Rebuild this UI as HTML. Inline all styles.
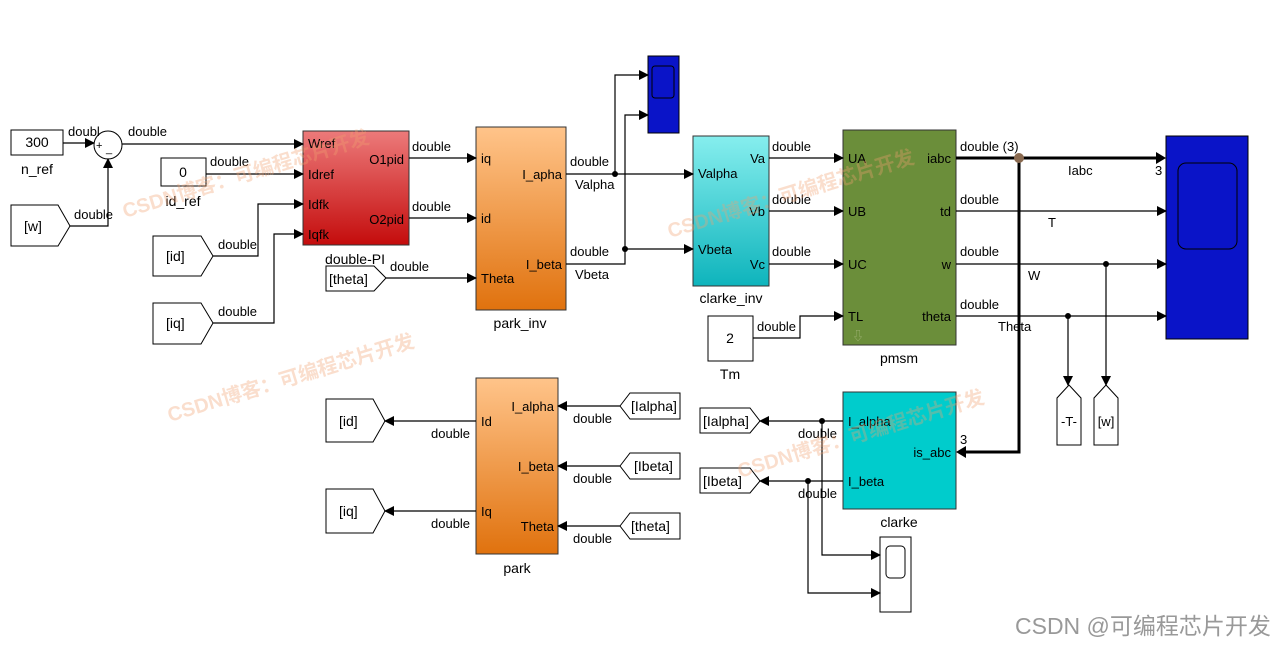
<!DOCTYPE html>
<html><head><meta charset="utf-8"><style>
html,body{margin:0;padding:0;background:#fff;}
svg{display:block;font-family:"Liberation Sans","Noto Sans CJK SC",sans-serif;}
</style></head><body>
<svg width="1283" height="646" viewBox="0 0 1283 646" xmlns="http://www.w3.org/2000/svg">
<defs>
<marker id="a" markerWidth="10" markerHeight="10" refX="9" refY="5" orient="auto" markerUnits="userSpaceOnUse"><path d="M0,0 L10,5 L0,10 z" fill="#000"/></marker>
<linearGradient id="red" x1="0" y1="0" x2="0" y2="1"><stop offset="0" stop-color="#ec7a7a"/><stop offset="1" stop-color="#c40c0c"/></linearGradient>
<linearGradient id="org" x1="0" y1="0" x2="0" y2="1"><stop offset="0" stop-color="#ffc48a"/><stop offset="1" stop-color="#e0720e"/></linearGradient>
<linearGradient id="cy" x1="0" y1="0" x2="0" y2="1"><stop offset="0" stop-color="#86eeee"/><stop offset="1" stop-color="#0eb4bc"/></linearGradient>
</defs>
<g font-size="13" fill="#000">
<rect x="11" y="130" width="52" height="25" fill="#fff" stroke="#000"/><text x="37" y="147" text-anchor="middle" font-size="14">300</text>
<text x="37" y="174" text-anchor="middle" font-size="14">n_ref</text>
<circle cx="108" cy="145" r="14" fill="#fff" stroke="#000"/><text x="96" y="149" font-size="11">+</text><text x="106" y="152" font-size="11">_</text>
<path d="M11,205 H58 L70,226 L58,246 H11 z" fill="#fff" stroke="#000"/><text x="24" y="231" font-size="14">[w]</text>
<rect x="161" y="158" width="45" height="28" fill="#fff" stroke="#000"/><text x="183" y="177" text-anchor="middle" font-size="14">0</text>
<text x="183" y="206" text-anchor="middle" font-size="14">id_ref</text>
<path d="M153,236 H201 L213,256 L201,276 H153 z" fill="#fff" stroke="#000"/><text x="166" y="261" font-size="14">[id]</text>
<path d="M153,303 H201 L213,323 L201,344 H153 z" fill="#fff" stroke="#000"/><text x="166" y="328" font-size="14">[iq]</text>
<rect x="303" y="131" width="106" height="114" fill="url(#red)" stroke="#333"/>
<text x="308" y="148">Wref</text><text x="308" y="179">Idref</text><text x="308" y="209">Idfk</text><text x="308" y="239">Iqfk</text>
<text x="404" y="164" text-anchor="end">O1pid</text><text x="404" y="224" text-anchor="end">O2pid</text>
<text x="355" y="264" text-anchor="middle" font-size="14">double-PI</text>
<path d="M326,266 H374 L386,278 L374,291 H326 z" fill="#fff" stroke="#000"/><text x="329" y="284" font-size="14">[theta]</text>
<rect x="476" y="127" width="90" height="183" fill="url(#org)" stroke="#333"/>
<text x="481" y="163">iq</text><text x="481" y="223">id</text><text x="481" y="283">Theta</text>
<text x="562" y="179" text-anchor="end">I_apha</text><text x="562" y="269" text-anchor="end">I_beta</text>
<text x="520" y="328" text-anchor="middle" font-size="14">park_inv</text>
<rect x="648" y="56" width="31" height="77" fill="#0a14c8" stroke="#000"/><rect x="652" y="66" width="22" height="32" rx="3" fill="none" stroke="#000"/>
<rect x="693" y="136" width="76" height="150" fill="url(#cy)" stroke="#333"/>
<text x="698" y="178">Valpha</text><text x="698" y="254">Vbeta</text>
<text x="765" y="163" text-anchor="end">Va</text><text x="765" y="216" text-anchor="end">Vb</text><text x="765" y="269" text-anchor="end">Vc</text>
<text x="731" y="303" text-anchor="middle" font-size="14">clarke_inv</text>
<rect x="708" y="316" width="45" height="45" fill="#fff" stroke="#000"/><text x="730" y="343" text-anchor="middle" font-size="14">2</text>
<text x="730" y="379" text-anchor="middle" font-size="14">Tm</text>
<rect x="843" y="130" width="113" height="215" fill="#6b8e3a" stroke="#333"/>
<text x="848" y="163">UA</text><text x="848" y="216">UB</text><text x="848" y="269">UC</text><text x="848" y="321">TL</text>
<text x="951" y="163" text-anchor="end">iabc</text><text x="951" y="216" text-anchor="end">td</text><text x="951" y="269" text-anchor="end">w</text><text x="951" y="321" text-anchor="end">theta</text>
<text x="852" y="340" fill="#9bb070" font-size="12">⇩</text>
<text x="899" y="363" text-anchor="middle" font-size="14">pmsm</text>
<rect x="1166" y="136" width="82" height="203" fill="#0a14c8" stroke="#000"/><rect x="1178" y="163" width="59" height="86" rx="8" fill="none" stroke="#000"/>
<path d="M1057,445 V398 L1069,385 L1081,398 V445 z" fill="#fff" stroke="#000"/><text x="1069" y="426" text-anchor="middle">-T-</text>
<path d="M1094,445 V398 L1106,385 L1118,398 V445 z" fill="#fff" stroke="#000"/><text x="1106" y="426" text-anchor="middle">[w]</text>
<rect x="843" y="392" width="113" height="117" fill="#00cccc" stroke="#333"/>
<text x="848" y="426">I_alpha</text><text x="951" y="457" text-anchor="end">is_abc</text><text x="848" y="486">I_beta</text>
<text x="899" y="527" text-anchor="middle" font-size="14">clarke</text>
<path d="M700,408 H750 L760,421 L750,433 H700 z" fill="#fff" stroke="#000"/><text x="703" y="426" font-size="14">[Ialpha]</text>
<path d="M700,468 H750 L760,481 L750,493 H700 z" fill="#fff" stroke="#000"/><text x="703" y="486" font-size="14">[Ibeta]</text>
<rect x="880" y="537" width="31" height="75" fill="#fff" stroke="#000"/><rect x="886" y="546" width="19" height="32" rx="4" fill="none" stroke="#000"/>
<rect x="476" y="378" width="82" height="176" fill="url(#org)" stroke="#333"/>
<text x="481" y="426">Id</text><text x="481" y="516">Iq</text>
<text x="554" y="411" text-anchor="end">I_alpha</text><text x="554" y="471" text-anchor="end">I_beta</text><text x="554" y="531" text-anchor="end">Theta</text>
<text x="517" y="573" text-anchor="middle" font-size="14">park</text>
<path d="M326,399 H373 L385,421 L373,442 H326 z" fill="#fff" stroke="#000"/><text x="339" y="426" font-size="14">[id]</text>
<path d="M326,489 H373 L385,511 L373,533 H326 z" fill="#fff" stroke="#000"/><text x="339" y="516" font-size="14">[iq]</text>
<path d="M620,406 L630,393 H680 V419 H630 z" fill="#fff" stroke="#000"/><text x="631" y="411" font-size="14">[Ialpha]</text>
<path d="M620,466 L630,453 H680 V479 H630 z" fill="#fff" stroke="#000"/><text x="634" y="471" font-size="14">[Ibeta]</text>
<path d="M620,526 L630,513 H680 V539 H630 z" fill="#fff" stroke="#000"/><text x="631" y="531" font-size="14">[theta]</text>
</g>
<g stroke="#000" stroke-width="1.2" fill="none" marker-end="url(#a)">
<path d="M63,143 H94"/><path d="M70,226 H108 V159"/><path d="M122,144 H303"/>
<path d="M206,174 H303"/><path d="M213,256 H258 V204 H303"/><path d="M213,323 H274 V234 H303"/>
<path d="M409,158 H476"/><path d="M409,218 H476"/><path d="M386,278 H476"/>
<path d="M566,174 H693"/><path d="M566,264 H625 V249 H693"/>
<path d="M615,174 V75 H648"/><path d="M625,249 V115 H648"/>
<path d="M769,158 H843"/><path d="M769,211 H843"/><path d="M769,264 H843"/><path d="M753,338 H800 V316 H843"/>
<path d="M956,211 H1166"/><path d="M956,264 H1166"/><path d="M956,316 H1166"/>
<path d="M1068,316 V385"/><path d="M1106,264 V385"/>
<path d="M843,421 H760"/><path d="M843,481 H760"/>
<path d="M822,421 V555 H880"/><path d="M808,481 V593 H880"/>
<path d="M476,421 H385"/><path d="M476,511 H385"/>
<path d="M620,406 H558"/><path d="M620,466 H558"/><path d="M620,526 H558"/>
</g>
<g stroke="#000" stroke-width="3" fill="none">
<path d="M956,158 H1160"/><path d="M1019,158 V452 H962"/>
</g>
<path d="M1156,152 L1166,158 L1156,164 z M966,446 L956,452 L966,458 z"/>
<circle cx="1019" cy="158" r="5" fill="#8a6a50"/>
<g fill="#000"><circle cx="615" cy="174" r="3"/><circle cx="625" cy="249" r="3"/><circle cx="1068" cy="316" r="3"/><circle cx="1106" cy="264" r="3"/><circle cx="822" cy="421" r="3"/><circle cx="808" cy="481" r="3"/></g>
<g font-size="13" fill="#000">
<text x="68" y="136">doubl</text><text x="128" y="136">double</text><text x="210" y="166">double</text><text x="74" y="219">double</text>
<text x="218" y="249">double</text><text x="218" y="316">double</text>
<text x="412" y="151">double</text><text x="412" y="211">double</text><text x="390" y="271">double</text>
<text x="570" y="166">double</text><text x="575" y="189">Valpha</text><text x="570" y="256">double</text><text x="575" y="279">Vbeta</text>
<text x="772" y="151">double</text><text x="772" y="204">double</text><text x="772" y="256">double</text><text x="757" y="331">double</text>
<text x="960" y="151">double (3)</text><text x="1068" y="175">Iabc</text><text x="1155" y="175">3</text>
<text x="960" y="204">double</text><text x="1048" y="227">T</text>
<text x="960" y="256">double</text><text x="1028" y="280">W</text>
<text x="960" y="309">double</text><text x="998" y="331">Theta</text>
<text x="960" y="444">3</text>
<text x="798" y="438">double</text><text x="798" y="498">double</text>
<text x="431" y="438">double</text><text x="431" y="528">double</text>
<text x="573" y="423">double</text><text x="573" y="483">double</text><text x="573" y="543">double</text>
</g>
<g fill="#f0a070" fill-opacity="0.35" font-size="20" font-weight="bold">
<text transform="translate(125,218) rotate(-17)">CSDN博客：可编程芯片开发</text>
<text transform="translate(670,238) rotate(-17)">CSDN博客：可编程芯片开发</text>
<text transform="translate(170,422) rotate(-17)">CSDN博客：可编程芯片开发</text>
<text transform="translate(740,478) rotate(-17)">CSDN博客：可编程芯片开发</text>
</g>
<text x="1015" y="634" font-size="23" fill="#999">CSDN @可编程芯片开发</text>
</svg>
</body></html>
